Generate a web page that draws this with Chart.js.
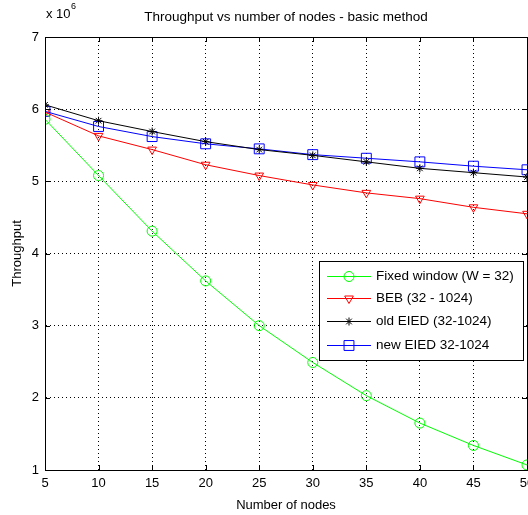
<!DOCTYPE html>
<html>
<head>
<meta charset="utf-8">
<script src="https://cdn.jsdelivr.net/npm/chart.js@4/dist/chart.umd.min.js"></script>
<style>
html,body{margin:0;padding:0;background:#fff;}
#wrap{width:528px;height:515px;}
</style>
</head>
<body>
<div id="wrap"><canvas id="c" width="528" height="515"></canvas></div>
<script>
const nodes = [5, 10, 15, 20, 25, 30, 35, 40, 45, 50];
const fixedWindow = [5.86, 5.08, 4.31, 3.62, 3.00, 2.49, 2.03, 1.65, 1.34, 1.07];
const beb = [5.96, 5.63, 5.44, 5.23, 5.08, 4.95, 4.84, 4.76, 4.64, 4.55];
const oldEIED = [6.06, 5.84, 5.69, 5.55, 5.44, 5.36, 5.27, 5.18, 5.12, 5.06];
const newEIED = [5.97, 5.76, 5.62, 5.52, 5.45, 5.37, 5.32, 5.27, 5.21, 5.16];
const xTicks = [5, 10, 15, 20, 25, 30, 35, 40, 45, 50];
const yTicks = [1, 2, 3, 4, 5, 6, 7];
const titleText = 'Throughput vs number of nodes - basic method';
const xTitle = 'Number of nodes';
const yTitle = 'Throughput';

const FONT = '"Liberation Sans Narrow", "Arial Narrow", "Liberation Sans", Arial, sans-serif';

function pts(arr){ return nodes.map((x,i)=>({x:x, y:arr[i]})); }

const datasets = [
  {label:'Fixed window (W = 32)', data:pts(fixedWindow), borderColor:'#00ff00', pointStyle:'circle', pointRadius:5, rotation:0},
  {label:'BEB (32 - 1024)', data:pts(beb), borderColor:'#ff0000', pointStyle:'triangle', pointRadius:5, rotation:180},
  {label:'old EIED (32-1024)', data:pts(oldEIED), borderColor:'#000000', pointStyle:'star', pointRadius:4, rotation:0},
  {label:'new EIED 32-1024', data:pts(newEIED), borderColor:'#0000ff', pointStyle:'rect', pointRadius:7, rotation:0}
].map(d=>Object.assign(d,{
  backgroundColor:'rgba(0,0,0,0)',
  pointBorderColor:d.borderColor,
  pointBackgroundColor:'rgba(0,0,0,0)',
  pointBorderWidth:1,
  borderWidth:1,
  tension:0,
  fill:false
}));

const decor = {
  id:'decor',
  afterDraw(chart){
    const ctx = chart.ctx, a = chart.chartArea;
    const xs = chart.scales.x, ys = chart.scales.y;
    ctx.save();
    ctx.strokeStyle = '#000'; ctx.lineWidth = 1;
    ctx.strokeRect(Math.round(a.left)+0.5, Math.round(a.top)+0.5, Math.round(a.right-a.left), Math.round(a.bottom-a.top));
    ctx.beginPath();
    xTicks.forEach(v=>{
      const px = Math.round(xs.getPixelForValue(v))+0.5;
      ctx.moveTo(px, a.bottom); ctx.lineTo(px, a.bottom-5);
      ctx.moveTo(px, a.top); ctx.lineTo(px, a.top+5);
    });
    yTicks.forEach(v=>{
      const py = Math.round(ys.getPixelForValue(v))+0.5;
      ctx.moveTo(a.left, py); ctx.lineTo(a.left+5, py);
      ctx.moveTo(a.right, py); ctx.lineTo(a.right-5, py);
    });
    ctx.stroke();
    ctx.fillStyle = '#000';
    ctx.font = '13.5px ' + FONT;
    ctx.textAlign = 'center'; ctx.textBaseline = 'middle';
    ctx.fillText(titleText, (a.left+a.right)/2, 17);
    ctx.font = '13px ' + FONT;
    ctx.textAlign = 'left';
    ctx.fillText('x 10', a.left+1, 14);
    ctx.font = '9px ' + FONT;
    ctx.fillText('6', a.left+26, 7);
    ctx.font = '13px ' + FONT;
    ctx.textAlign = 'center';
    ctx.fillText(xTitle, (a.left+a.right)/2, 505);
    ctx.save();
    ctx.translate(17, (a.top+a.bottom)/2);
    ctx.rotate(-Math.PI/2);
    ctx.fillText(yTitle, 0, 0);
    ctx.restore();
    const lx = 319, ly = 261, lw = 204, lh = 99;
    ctx.fillStyle = '#fff';
    ctx.fillRect(lx, ly, lw, lh);
    ctx.strokeStyle = '#000';
    ctx.strokeRect(lx+0.5, ly+0.5, lw, lh);
    const rows = [276, 298, 321, 345];
    chart.data.datasets.forEach((d,i)=>{
      const y = rows[i]+0.5;
      ctx.strokeStyle = d.borderColor; ctx.lineWidth = 1;
      ctx.beginPath(); ctx.moveTo(327, y); ctx.lineTo(371, y); ctx.stroke();
      ctx.fillStyle = 'rgba(0,0,0,0)';
      ctx.strokeStyle = d.borderColor;
      Chart.helpers.drawPoint(ctx, {pointStyle:d.pointStyle, rotation:d.rotation, radius:d.pointRadius, borderWidth:1}, 349, y);
      ctx.fillStyle = '#000';
      ctx.textAlign = 'left'; ctx.textBaseline = 'middle';
      ctx.font = '13.5px ' + FONT;
      ctx.fillText(d.label, 376, y);
    });
    ctx.restore();
  }
};

new Chart(document.getElementById('c'), {
  type:'line',
  data:{datasets:datasets},
  options:{
    responsive:false,
    animation:false,
    devicePixelRatio:1,
    layout:{autoPadding:false, padding:{left:0, right:1, top:37, bottom:0}},
    plugins:{legend:{display:false}, title:{display:false}, tooltip:{enabled:false}},
    scales:{
      x:{
        type:'linear', min:5, max:50,
        afterBuildTicks(s){ s.ticks = xTicks.map(v=>({value:v})); },
        afterFit(s){ s.height = 45; s.paddingRight = 0; s.paddingLeft = 0; },
        ticks:{color:'#000', font:{family:FONT, size:13}, padding:6, maxRotation:0, autoSkip:false},
        grid:{color:'#000', lineWidth:1, drawTicks:false},
        border:{display:true, color:'#000', dash:[1,3]}
      },
      y:{
        type:'linear', min:1, max:7,
        afterBuildTicks(s){ s.ticks = yTicks.map(v=>({value:v})); },
        afterFit(s){ s.width = 45; s.paddingTop = 0; s.paddingBottom = 0; },
        ticks:{color:'#000', font:{family:FONT, size:13}, padding:6},
        grid:{color:'#000', lineWidth:1, drawTicks:false},
        border:{display:true, color:'#000', dash:[1,3]}
      }
    }
  },
  plugins:[decor]
});
</script>
</body>
</html>
